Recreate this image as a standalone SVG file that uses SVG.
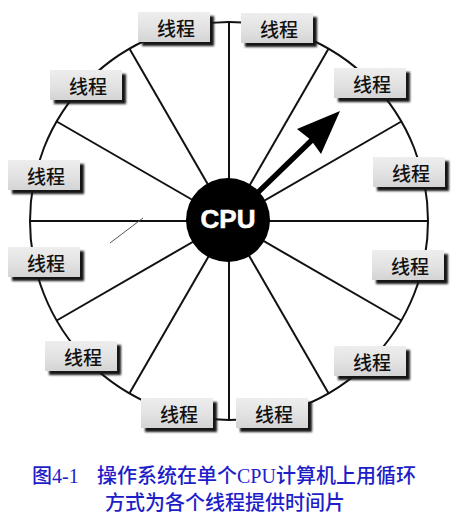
<svg xmlns="http://www.w3.org/2000/svg" width="458" height="516" viewBox="0 0 458 516">
<defs>
<linearGradient id="boxg" x1="0" y1="0" x2="0" y2="1">
<stop offset="0" stop-color="#f2f2f2"/>
<stop offset="0.6" stop-color="#e4e4e4"/>
<stop offset="1" stop-color="#d6d6d6"/>
</linearGradient>
<filter id="blur" x="-20%" y="-20%" width="140%" height="140%">
<feGaussianBlur stdDeviation="1"/>
</filter>
<filter id="grain" x="0" y="0" width="100%" height="100%">
<feTurbulence type="fractalNoise" baseFrequency="0.9" numOctaves="2" seed="3" result="n"/>
<feColorMatrix in="n" type="matrix" values="0 0 0 0 0.5  0 0 0 0 0.5  0 0 0 0 0.5  0 0 0 0.18 0" result="g"/>
<feComposite in="g" in2="SourceGraphic" operator="in" result="g2"/>
<feMerge><feMergeNode in="SourceGraphic"/><feMergeNode in="g2"/></feMerge>
</filter>
</defs>
<style>
.spoke{stroke:#111;stroke-width:2;fill:none}
.ring{stroke:#111;stroke-width:2;fill:none}
.shadow{fill:#151515;filter:url(#blur)}
.box{fill:url(#boxg);filter:url(#grain)}
.lbl{font-family:"Noto Sans CJK SC","Noto Sans",sans-serif;font-size:19px;font-weight:500;fill:#111;text-anchor:middle;dominant-baseline:central}
.cap{font-family:"Liberation Serif","Noto Sans CJK SC",serif;font-size:20px;font-weight:500;fill:#1e1ec8}
</style>
<rect width="458" height="516" fill="#ffffff"/>
<g id="connectors">
<circle class="ring" cx="229" cy="221" r="199"/>
<line class="spoke" x1="229" y1="221" x2="229" y2="22"/>
<line class="spoke" x1="229" y1="221" x2="328.5" y2="48.7"/>
<line class="spoke" x1="229" y1="221" x2="401.3" y2="121.5"/>
<line class="spoke" x1="229" y1="221" x2="428" y2="221"/>
<line class="spoke" x1="229" y1="221" x2="401.3" y2="320.5"/>
<line class="spoke" x1="229" y1="221" x2="328.5" y2="393.3"/>
<line class="spoke" x1="229" y1="221" x2="229" y2="420"/>
<line class="spoke" x1="229" y1="221" x2="129.5" y2="393.3"/>
<line class="spoke" x1="229" y1="221" x2="56.7" y2="320.5"/>
<line class="spoke" x1="229" y1="221" x2="30" y2="221"/>
<line class="spoke" x1="229" y1="221" x2="56.7" y2="121.5"/>
<line class="spoke" x1="229" y1="221" x2="129.5" y2="48.7"/>
<line x1="110" y1="243" x2="143" y2="218" stroke="#555" stroke-width="1"/>
<g id="arrow">
<line x1="246" y1="204" x2="313" y2="139" stroke="#000" stroke-width="5.5"/>
<polygon points="340,111 321,154 311,140 297,129" fill="#000"/>
</g>
</g>
<g id="cpu">
<circle cx="228" cy="220" r="42" fill="#000"/>
<text x="228" y="228" font-family="Liberation Sans, Arial, sans-serif" font-weight="bold" font-size="26" fill="#fff" stroke="#fff" stroke-width="0.6" text-anchor="middle">CPU</text>
</g>
<g id="thread1"><rect class="shadow" x="142" y="16" width="72" height="30"/><rect class="box" x="138" y="12" width="72" height="30"/><text class="lbl" x="176" y="27">线程</text></g>
<g id="thread2"><rect class="shadow" x="245" y="17" width="72" height="30"/><rect class="box" x="241" y="13" width="72" height="30"/><text class="lbl" x="279" y="28">线程</text></g>
<g id="thread3"><rect class="shadow" x="54" y="74" width="72" height="30"/><rect class="box" x="50" y="70" width="72" height="30"/><text class="lbl" x="88" y="85">线程</text></g>
<g id="thread4"><rect class="shadow" x="338" y="72" width="72" height="30"/><rect class="box" x="334" y="68" width="72" height="30"/><text class="lbl" x="372" y="83">线程</text></g>
<g id="thread5"><rect class="shadow" x="12" y="164" width="72" height="30"/><rect class="box" x="8" y="160" width="72" height="30"/><text class="lbl" x="46" y="175">线程</text></g>
<g id="thread6"><rect class="shadow" x="377" y="161" width="72" height="30"/><rect class="box" x="373" y="157" width="72" height="30"/><text class="lbl" x="411" y="172">线程</text></g>
<g id="thread7"><rect class="shadow" x="12" y="251" width="72" height="30"/><rect class="box" x="8" y="247" width="72" height="30"/><text class="lbl" x="46" y="262">线程</text></g>
<g id="thread8"><rect class="shadow" x="376" y="254" width="72" height="30"/><rect class="box" x="372" y="250" width="72" height="30"/><text class="lbl" x="410" y="265">线程</text></g>
<g id="thread9"><rect class="shadow" x="49" y="345" width="72" height="30"/><rect class="box" x="45" y="341" width="72" height="30"/><text class="lbl" x="83" y="356">线程</text></g>
<g id="thread10"><rect class="shadow" x="338" y="350" width="72" height="30"/><rect class="box" x="334" y="346" width="72" height="30"/><text class="lbl" x="372" y="361">线程</text></g>
<g id="thread11"><rect class="shadow" x="145" y="402" width="72" height="30"/><rect class="box" x="141" y="398" width="72" height="30"/><text class="lbl" x="179" y="413">线程</text></g>
<g id="thread12"><rect class="shadow" x="240" y="402" width="72" height="30"/><rect class="box" x="236" y="398" width="72" height="30"/><text class="lbl" x="274" y="413">线程</text></g>
<g id="caption">
<text class="cap" x="32" y="483">图4-1<tspan x="97">操作系统在单个CPU计算机上用循环</tspan></text>
<text class="cap" x="105" y="510">方式为各个线程提供时间片</text>
</g>
</svg>
